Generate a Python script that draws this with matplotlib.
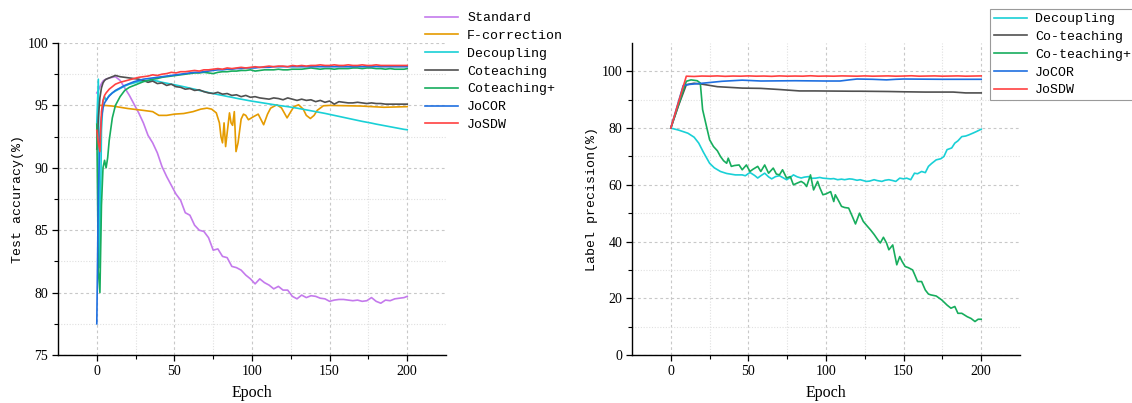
import matplotlib
matplotlib.use('Agg')
import matplotlib.pyplot as plt
from matplotlib.ticker import FixedLocator

MONO = ['Liberation Mono', 'DejaVu Sans Mono']
SERIF = ['Liberation Serif', 'DejaVu Serif']

# ---- left panel: test accuracy ----
epochs_left = [0, 1, 2, 3, 4, 5, 6, 7, 8, 10,
               12, 15, 18, 21, 24, 27, 30, 33, 36, 39,
               42, 45, 48, 51, 54, 57, 60, 63, 66, 69,
               72, 75, 78, 81, 84, 87, 90, 93, 96, 99,
               102, 105, 108, 111, 114, 117, 120, 123, 126, 129,
               132, 135, 138, 141, 144, 147, 150, 153, 156, 159,
               162, 165, 168, 171, 174, 177, 180, 183, 186, 189,
               192, 195, 198, 200]

standard = [96.0, 96.2, 96.5, 96.75, 96.95, 97.05, 97.1, 97.15, 97.2, 97.25,
            97.3, 97.0, 96.4, 95.8, 95.1, 94.4, 93.6, 92.6, 92.0, 91.2,
            90.1, 89.3, 88.6, 87.9, 87.4, 86.4, 86.2, 85.4, 85.0, 84.9,
            84.4, 83.4, 83.5, 82.9, 82.8, 82.1, 82.0, 81.8, 81.4, 81.1,
            80.7, 81.1, 80.8, 80.6, 80.3, 80.5, 80.2, 80.2, 79.7, 79.5,
            79.8, 79.6, 79.75, 79.7, 79.55, 79.5, 79.3, 79.4, 79.45, 79.45,
            79.4, 79.35, 79.4, 79.3, 79.35, 79.6, 79.3, 79.15, 79.4, 79.35,
            79.5, 79.55, 79.6, 79.7]

decoupling = [93.6, 97.1, 82.0, 93.0, 95.3, 95.7, 95.4, 95.6, 95.8, 96.0,
              96.15, 96.35, 96.55, 96.7, 96.8, 96.9, 96.95, 97.0, 97.0, 96.95,
              96.85, 96.78, 96.7, 96.63, 96.55, 96.47, 96.38, 96.3, 96.2, 96.12,
              96.03, 95.95, 95.87, 95.8, 95.72, 95.65, 95.57, 95.5, 95.43, 95.36,
              95.3, 95.24, 95.18, 95.12, 95.06, 95.0, 94.95, 94.9, 94.84, 94.78,
              94.71, 94.64, 94.57, 94.5, 94.43, 94.36, 94.28, 94.2, 94.12, 94.04,
              93.96, 93.88, 93.8, 93.72, 93.65, 93.58, 93.5, 93.43, 93.36, 93.29,
              93.22, 93.15, 93.08, 93.05]

coteaching = [91.5, 94.0, 95.6, 96.4, 96.8, 97.0, 97.1, 97.15, 97.2, 97.3,
              97.4, 97.3, 97.25, 97.2, 97.15, 97.1, 97.0, 96.85, 96.95, 96.75,
              96.8, 96.6, 96.7, 96.5, 96.45, 96.3, 96.35, 96.2, 96.25, 96.1,
              96.0, 95.95, 96.05, 95.9, 95.95, 95.8, 95.85, 95.7, 95.8, 95.65,
              95.7, 95.6, 95.55, 95.5, 95.6, 95.55, 95.45, 95.6, 95.5, 95.4,
              95.5, 95.4, 95.45, 95.3, 95.4, 95.25, 95.35, 95.1, 95.3, 95.25,
              95.2, 95.2, 95.25, 95.2, 95.15, 95.2, 95.15, 95.15, 95.1, 95.1,
              95.1, 95.1, 95.1, 95.1]

coteaching_plus = [93.5, 81.7, 80.0, 87.0, 90.0, 90.6, 90.0, 90.8, 92.2, 94.0,
                   95.0, 95.7, 96.2, 96.45, 96.6, 96.75, 96.9, 97.0, 97.1, 97.15,
                   97.25, 97.3, 97.35, 97.4, 97.45, 97.5, 97.55, 97.6, 97.6, 97.65,
                   97.6, 97.55, 97.65, 97.7, 97.7, 97.75, 97.75, 97.8, 97.8, 97.85,
                   97.75, 97.8, 97.85, 97.85, 97.85, 97.9, 97.85, 97.85, 97.9, 97.9,
                   97.9, 97.95, 98.0, 97.95, 97.9, 97.95, 97.95, 97.9, 97.95, 97.95,
                   97.95, 98.0, 98.0, 97.95, 98.0, 98.0, 97.95, 97.95, 97.9, 97.95,
                   97.9, 97.9, 97.9, 97.95]

jocor = [77.5, 88.0, 92.5, 94.0, 94.8, 95.2, 95.4, 95.6, 95.75, 96.0,
         96.2, 96.4, 96.6, 96.75, 96.9, 97.0, 97.1, 97.15, 97.2, 97.25,
         97.3, 97.35, 97.4, 97.45, 97.5, 97.55, 97.6, 97.65, 97.65, 97.7,
         97.75, 97.8, 97.85, 97.85, 97.9, 97.9, 97.95, 97.95, 98.0, 98.0,
         98.0, 98.05, 98.05, 98.05, 98.1, 98.1, 98.1, 98.1, 98.1, 98.1,
         98.1, 98.1, 98.1, 98.1, 98.1, 98.1, 98.1, 98.1, 98.1, 98.1,
         98.1, 98.1, 98.12, 98.1, 98.12, 98.1, 98.12, 98.1, 98.1, 98.1,
         98.1, 98.1, 98.1, 98.1]

josdw = [93.0, 92.0, 91.3, 94.5, 95.4, 95.8, 96.0, 96.15, 96.3, 96.5,
         96.7, 96.85, 96.95, 97.05, 97.15, 97.25, 97.3, 97.35, 97.45, 97.4,
         97.5, 97.55, 97.65, 97.6, 97.7, 97.7, 97.75, 97.8, 97.75, 97.85,
         97.85, 97.9, 97.95, 97.9, 98.0, 97.95, 98.0, 98.05, 98.0, 98.05,
         98.1, 98.05, 98.1, 98.15, 98.1, 98.15, 98.15, 98.1, 98.2, 98.15,
         98.2, 98.15, 98.2, 98.2, 98.25, 98.2, 98.2, 98.25, 98.2, 98.2,
         98.25, 98.2, 98.2, 98.25, 98.2, 98.2, 98.25, 98.2, 98.2, 98.2,
         98.2, 98.2, 98.2, 98.2]

fcorr_epochs = [1, 5, 10, 20, 30, 36, 40, 45, 50, 56,
                62, 67, 71, 74, 77, 79, 80, 81, 82, 83,
                84, 85.5, 86.5, 87.5, 88.6, 89.7, 91, 93, 94.5, 96,
                97.7, 101, 104, 107.5, 110, 112, 116, 119, 122.6, 125,
                127, 130, 133, 135, 137.6, 140, 142, 146, 150, 170,
                185, 200]
fcorrection = [95.0, 95.0, 94.95, 94.75, 94.6, 94.5, 94.2, 94.2, 94.3, 94.35,
               94.5, 94.7, 94.78, 94.7, 94.4, 93.6, 92.5, 92.0, 93.6, 91.7,
               92.8, 94.4, 93.6, 93.4, 94.5, 91.3, 92.0, 93.9, 94.3, 94.2,
               93.85, 94.1, 94.3, 93.45, 94.3, 94.78, 95.05, 94.8, 94.0, 94.5,
               94.9, 95.05, 94.7, 94.2, 93.95, 94.2, 94.6, 94.97, 95.0, 94.95,
               94.85, 94.9]

# ---- right panel: label precision ----
dec_epochs = [0, 5, 11, 15, 18, 21, 25, 28, 32, 36,
              41.6, 46, 48, 51, 54, 56, 58, 60.5, 63, 65,
              67.5, 70, 72, 74.6, 77, 79, 81.5, 84, 86, 88.7,
              91, 93.4, 96, 98, 101, 103, 105, 107.5, 110, 112,
              115, 117, 120, 122, 126, 128, 131, 133, 136, 138,
              140.5, 143, 145, 147.5, 150, 152, 154.6, 157, 159, 161.6,
              164, 166, 168, 171, 174, 176, 178, 181, 183, 185,
              187.5, 190, 192, 195, 197, 200]
dec_precision = [80.0, 79.3, 78.2, 76.8, 74.7, 71.5, 67.6, 66.0, 64.7, 64.0,
                 63.5, 63.5, 63.2, 64.35, 63.3, 62.4, 63.2, 64.1, 62.8, 62.1,
                 62.9, 63.2, 62.6, 61.8, 62.6, 63.5, 62.8, 62.4, 62.7, 62.9,
                 62.3, 62.35, 62.6, 62.35, 62.2, 62.1, 62.2, 61.8, 62.0, 61.8,
                 62.1, 62.0, 61.6, 61.8, 61.2, 61.3, 61.8, 61.5, 61.2, 61.6,
                 61.8, 61.5, 61.2, 62.35, 62.1, 62.35, 61.8, 64.1, 63.9, 64.7,
                 64.3, 66.5, 67.5, 68.8, 69.2, 70.0, 72.4, 73.0, 74.7, 75.5,
                 77.0, 77.2, 77.6, 78.3, 78.8, 79.6]

ct_epochs = [0, 5, 10, 15, 20, 30, 46, 58, 70, 83,
             93, 117, 122, 140, 150, 164, 182, 190, 200]
ct_precision = [80.0, 88.0, 95.3, 95.8, 95.5, 94.6, 94.1, 94.0, 93.6, 93.1,
                93.1, 93.0, 93.0, 92.9, 92.8, 92.7, 92.7, 92.4, 92.4]

ctp_epochs = [0, 10, 13, 17, 19, 20.5, 23, 25, 27.5, 30,
              32, 34, 36, 37, 39, 41, 44, 46, 48.7, 51,
              53, 56, 58, 60.5, 63, 66, 68, 70, 72, 74.6,
              77, 79, 81, 84, 86, 87.5, 90, 92, 94.6, 96,
              98, 100, 103, 105, 106, 108, 110, 112, 114.6, 117,
              119, 121.6, 124, 126, 128.7, 131, 133.4, 135, 137, 139,
              140.5, 143, 145.6, 147.5, 149, 151, 153, 155.8, 157, 159,
              161.6, 164, 166, 167.5, 171, 174.6, 178, 180.5, 183, 185,
              187.5, 191, 193.4, 196, 198, 200]
ctp_precision = [80.0, 96.5, 97.0, 96.7, 95.9, 86.5, 80.6, 75.9, 73.5, 72.0,
                 70.0, 68.5, 67.6, 69.4, 66.5, 66.8, 67.0, 65.3, 67.0, 64.7,
                 65.5, 66.5, 64.7, 67.0, 64.1, 65.9, 63.8, 63.5, 65.3, 62.4,
                 62.9, 60.0, 60.5, 61.2, 60.5, 59.4, 63.5, 58.2, 61.2, 59.0,
                 56.5, 56.8, 57.6, 54.1, 56.5, 54.5, 52.4, 52.0, 51.8, 48.8,
                 46.2, 50.0, 47.1, 45.8, 44.1, 42.5, 40.6, 39.5, 41.5, 39.5,
                 37.1, 38.8, 31.8, 34.7, 33.0, 31.2, 30.8, 30.0, 28.5, 25.9,
                 25.9, 22.9, 21.5, 21.2, 20.8, 19.4, 17.6, 16.5, 17.1, 14.7,
                 14.7, 13.5, 12.9, 11.8, 12.6, 12.6]

jocor_epochs = [0, 8, 12, 20, 33, 46, 58, 80, 100, 109,
                115, 120, 130, 139, 145, 150, 175, 200]
jocor_precision = [80.0, 95.0, 95.4, 95.8, 96.5, 96.9, 96.6, 96.7, 96.6, 96.6,
                   97.0, 97.3, 97.2, 97.0, 97.2, 97.3, 97.2, 97.2]

josdw_epochs = [0, 10, 15, 20, 25, 30, 35, 40, 45, 50,
                55, 60, 65, 70, 75, 80, 85, 90, 95, 100,
                105, 110, 115, 120, 125, 130, 135, 140, 145, 150,
                155, 160, 165, 170, 175, 180, 185, 190, 195, 200]
josdw_precision = [80.0, 98.3, 98.2, 98.35, 98.3, 98.4, 98.25, 98.35, 98.3, 98.4,
                   98.3, 98.35, 98.25, 98.4, 98.3, 98.35, 98.3, 98.45, 98.3, 98.35,
                   98.3, 98.4, 98.35, 98.3, 98.4, 98.3, 98.35, 98.4, 98.3, 98.35,
                   98.45, 98.3, 98.35, 98.4, 98.3, 98.35, 98.4, 98.3, 98.35, 98.4]

COLORS = {
    'Standard': '#c47aec',
    'F-correction': '#e59b00',
    'Decoupling': '#19d0d6',
    'Coteaching': '#505050',
    'Coteaching+': '#17ad5d',
    'JoCOR': '#1f6fe0',
    'JoSDW': '#ff4141',
}
LW = 1.2


def style_axes(ax, ymajor, yminor, ylim):
    ax.set_xlim(-25, 225)
    ax.set_ylim(*ylim)
    ax.set_xticks([0, 50, 100, 150, 200])
    ax.xaxis.set_minor_locator(FixedLocator([25, 75, 125, 175]))
    ax.set_yticks(ymajor)
    ax.yaxis.set_minor_locator(FixedLocator(yminor))
    for side in ['top', 'right']:
        ax.spines[side].set_visible(False)
    for side in ['left', 'bottom']:
        ax.spines[side].set_linewidth(1.0)
    ax.tick_params(which='major', direction='out', length=4, width=0.9, pad=3,
                   labelsize=10)
    ax.tick_params(which='minor', direction='out', length=3, width=0.8)
    for lab in ax.get_xticklabels() + ax.get_yticklabels():
        lab.set_family(SERIF)
    ax.grid(which='major', linestyle=(0, (2.5, 2.5)), color='#c8c8c8', linewidth=0.8)
    ax.grid(which='minor', linestyle=(0, (1, 1.5)), color='#e0e0e0', linewidth=0.8)
    ax.set_axisbelow(True)
    ax.set_xlabel('Epoch', family=SERIF, fontsize=11.5)
    ax.xaxis.set_label_coords(0.5, -0.095)


fig = plt.figure(figsize=(11.32, 4.03), dpi=100)
ax1 = fig.add_axes([58 / 1132, 48 / 403, 388 / 1132, 312 / 403])
ax2 = fig.add_axes([632 / 1132, 48 / 403, 388 / 1132, 312 / 403])

ax1.plot(epochs_left, standard, color=COLORS['Standard'], lw=LW, label='Standard')
ax1.plot(fcorr_epochs, fcorrection, color=COLORS['F-correction'], lw=LW, label='F-correction')
ax1.plot(epochs_left, decoupling, color=COLORS['Decoupling'], lw=LW, label='Decoupling')
ax1.plot(epochs_left, coteaching, color=COLORS['Coteaching'], lw=LW, label='Coteaching')
ax1.plot(epochs_left, coteaching_plus, color=COLORS['Coteaching+'], lw=LW, label='Coteaching+')
ax1.plot(epochs_left, jocor, color=COLORS['JoCOR'], lw=LW, label='JoCOR')
ax1.plot(epochs_left, josdw, color=COLORS['JoSDW'], lw=LW, label='JoSDW')
style_axes(ax1, [75, 80, 85, 90, 95, 100], [77.5, 82.5, 87.5, 92.5, 97.5], (75, 100))
ax1.set_ylabel('Test accuracy(%)', family=MONO, fontsize=9.5)
ax1.yaxis.set_label_coords(-0.088, 0.5)

ax2.plot(dec_epochs, dec_precision, color=COLORS['Decoupling'], lw=LW, label='Decoupling')
ax2.plot(ct_epochs, ct_precision, color=COLORS['Coteaching'], lw=LW, label='Co-teaching')
ax2.plot(ctp_epochs, ctp_precision, color=COLORS['Coteaching+'], lw=LW, label='Co-teaching+')
ax2.plot(jocor_epochs, jocor_precision, color=COLORS['JoCOR'], lw=LW, label='JoCOR')
ax2.plot(josdw_epochs, josdw_precision, color=COLORS['JoSDW'], lw=LW, label='JoSDW')
style_axes(ax2, [0, 20, 40, 60, 80, 100], [10, 30, 50, 70, 90], (0, 110))
ax2.set_ylabel('Label precision(%)', family=MONO, fontsize=9.5)
ax2.yaxis.set_label_coords(-0.088, 0.5)

leg1 = fig.legend(*ax1.get_legend_handles_labels(), loc='upper left',
                  bbox_to_anchor=(425 / 1132, 1 - 12 / 403), frameon=False,
                  prop={'family': MONO, 'size': 9.5}, handlelength=2.5,
                  handletextpad=0.7, labelspacing=0.42, borderpad=0,
                  borderaxespad=0)

leg2 = fig.legend(*ax2.get_legend_handles_labels(), loc='upper left',
                  bbox_to_anchor=(990 / 1132, 1 - 9 / 403), frameon=True,
                  fancybox=False, framealpha=1, edgecolor='#9a9a9a',
                  prop={'family': MONO, 'size': 9.5}, handlelength=2.5,
                  handletextpad=0.6, labelspacing=0.42, borderpad=0.3,
                  borderaxespad=0)
leg2.get_frame().set_linewidth(0.8)

fig.savefig('out.png', dpi=100)
